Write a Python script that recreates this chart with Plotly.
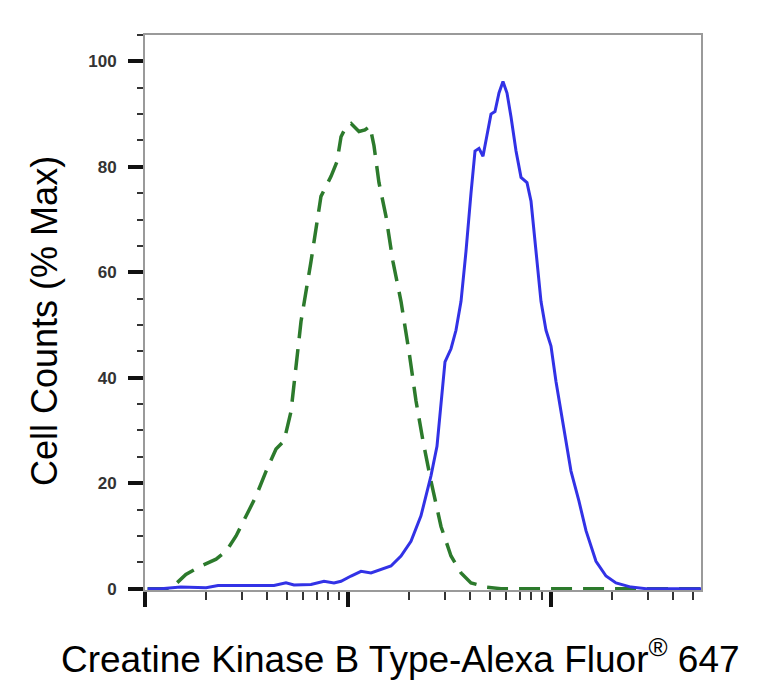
import plotly.graph_objects as go

# Fluorescence channel values (log axis) and % max cell counts
blue_x = [103, 120, 150, 168, 200, 229, 297, 373, 432, 495, 542, 657, 762, 853, 924,
          1035, 1159, 1298, 1454, 1628, 1824, 2043, 2288, 2563, 2744, 2872, 3005, 3217,
          3404, 3604, 3814, 4036, 4224, 4419, 4624, 4838, 5063, 5298, 5544, 5801, 6072,
          6353, 6726, 7118, 7618, 7971, 8437, 8928, 9450, 10000, 10583, 11461, 12547,
          13736, 14874, 16660, 18661, 20900, 24780, 29380, 39000, 54820]
blue_y = [0, 0, 0.3, 0.3, 0.2, 0.6, 0.6, 0.6, 0.6, 1.1, 0.7, 0.8, 1.4, 1.1, 1.4,
          2.4, 3.3, 3.0, 3.7, 4.3, 6.2, 9.0, 13.8, 21.4, 27, 35.5, 43, 45.5,
          49, 54.5, 64, 75, 83, 83.5, 82, 86, 90, 90.5, 94, 96.2, 94,
          89.5, 83, 78, 77, 73.5, 64, 54.5, 49, 46, 39.3, 31.7, 22.3,
          16.6, 11, 5.2, 2.4, 1.1, 0.3, 0, 0, 0]

green_x = [103, 134, 159, 189, 224, 251, 281, 315, 352, 395, 442, 484, 524, 587, 657,
           736, 825, 883, 924, 978, 1035, 1133, 1212, 1283, 1343, 1421, 1539, 1666,
           1824, 1997, 2163, 2342, 2563, 2872, 3217, 3604, 4036, 4784, 5672, 54820]
green_y = [0, 0, 2.7, 4.3, 5.6, 7.1, 10, 13.8, 17.5, 22.3, 26.5, 28, 33.6, 50.7, 62,
           74.4, 78.2, 81, 85.7, 87.6, 88.2, 86.7, 87, 87.7, 84, 77, 70.6, 62,
           54.5, 45, 35.6, 28, 20.4, 11.8, 6.2, 3, 1.1, 0.3, 0, 0]

y_ticks = [0, 20, 40, 60, 80, 100]

x_title = "Creatine Kinase B Type-Alexa Fluor<sup>®</sup> 647"
y_title = "Cell Counts (% Max)"

fig = go.Figure()
fig.add_trace(go.Scatter(x=green_x, y=green_y, mode="lines",
                         line=dict(color="#2c7a2c", width=3.5, dash="21px,11px"),
                         showlegend=False))
fig.add_trace(go.Scatter(x=blue_x, y=blue_y, mode="lines",
                         line=dict(color="#3232e6", width=3),
                         showlegend=False))

fig.update_layout(
    width=776, height=680,
    margin=dict(l=137, r=83, t=27, b=98),
    paper_bgcolor="white", plot_bgcolor="white",
    font=dict(family="Liberation Sans, Arial, sans-serif", color="black"),
    xaxis=dict(type="log", range=[2, 4.739], showgrid=False, zeroline=False,
               showline=True, mirror=True, linecolor="#9a9a9a", linewidth=2,
               ticks="outside", dtick=1, ticklen=15, tickwidth=4, tickcolor="#111",
               showticklabels=False,
               minor=dict(ticks="outside", dtick="D1", ticklen=8, tickwidth=2,
                          tickcolor="#333", showgrid=False)),
    yaxis=dict(range=[-0.25, 105], showgrid=False, zeroline=False,
               showline=True, mirror=True, linecolor="#9a9a9a", linewidth=2,
               ticks="outside", tickmode="array", tickvals=y_ticks,
               ticklen=15, tickwidth=4, tickcolor="#111",
               ticklabelstandoff=8,
               tickfont=dict(size=17, color="#333", family="Liberation Sans, Arial, sans-serif",
                             weight="bold"),
               minor=dict(ticks="outside", dtick=5, tick0=0, ticklen=6, tickwidth=2,
                          tickcolor="#333", showgrid=False)),
    annotations=[
        dict(text=x_title, xref="paper", yref="paper", x=0.4604, y=-0.1207,
             xanchor="center", yanchor="middle", showarrow=False,
             font=dict(size=37, color="black")),
        dict(text=y_title, xref="paper", yref="paper", x=-0.1799, y=0.4847,
             xanchor="center", yanchor="middle", showarrow=False, textangle=-90,
             font=dict(size=36, color="black")),
    ],
)

fig.write_html("out.html")
